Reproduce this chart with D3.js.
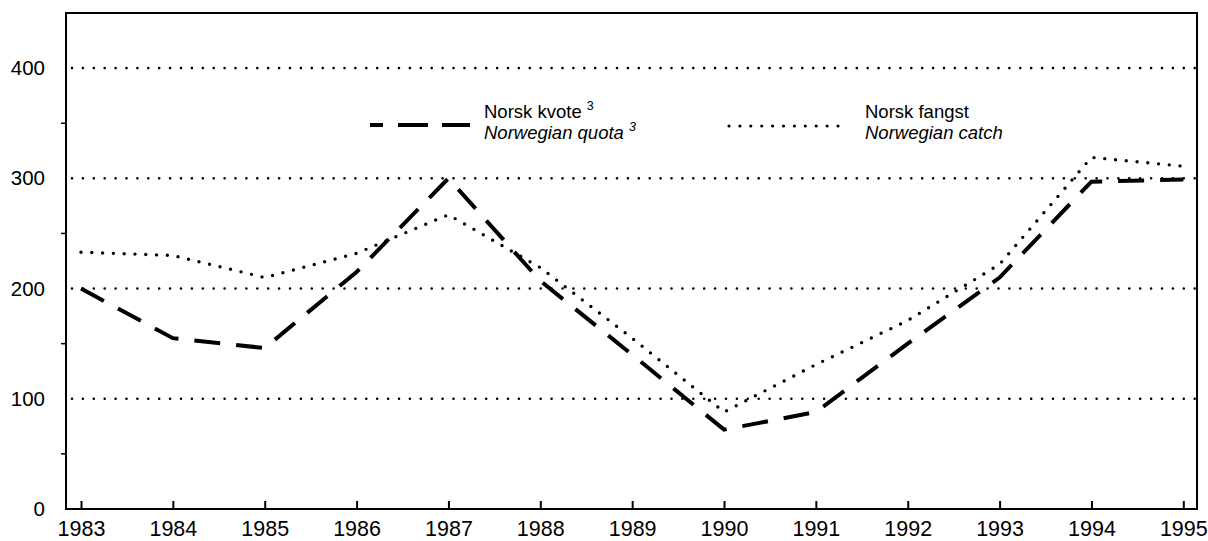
<!DOCTYPE html>
<html><head><meta charset="utf-8">
<script src="https://cdn.jsdelivr.net/npm/d3@7"></script>
<style>body{margin:0;background:#fff}svg{display:block}text{font-family:"Liberation Sans",Arial,sans-serif;fill:#000}</style>
</head><body><svg id="c" width="1208" height="541"></svg>
<script>
const years = [1983,1984,1985,1986,1987,1988,1989,1990,1991,1992,1993,1994,1995];
const quota = [200,155,146,215,300,207,140,72,88,150,210,297,299];
const catchV = [233,230,210,232,267,219,155,88,131,171,222,319,311];
const yTicks = [0,100,200,300,400];
const yMinor = [50,150,250,350];

const svg = d3.select("#c");
const L=66, R=1197, T=13, B=509;
const FF='"Liberation Sans",Arial,sans-serif';
const x = d3.scaleLinear().domain([1983,1995]).range([81,1183.3]);
const y = d3.scaleLinear().domain([0,450]).range([B,T]);

// gridlines
svg.append("g").selectAll("line").data(yTicks.filter(d=>d>0)).join("line")
  .attr("x1",L+6).attr("x2",R-2).attr("y1",d=>y(d)).attr("y2",d=>y(d))
  .attr("stroke","#000").attr("stroke-width",2.6).attr("stroke-linecap","round")
  .attr("stroke-dasharray","0,10.9");

// frame
svg.append("path").attr("d",`M${L},${B}V${T}H${R}V${B}Z`).attr("fill","none").attr("stroke","#000").attr("stroke-width",2);

// y axis
const ya = svg.append("g").attr("transform",`translate(${L},0)`)
  .call(d3.axisLeft(y).tickValues(yTicks).tickSize(0).tickPadding(21).tickFormat(d3.format("d")));
ya.select(".domain").remove();
ya.selectAll("text").attr("font-size",20.5).style("font-family",FF);
svg.append("g").selectAll("line").data(yMinor).join("line")
  .attr("x1",L-5).attr("x2",L).attr("y1",d=>y(d)).attr("y2",d=>y(d)).attr("stroke","#000").attr("stroke-width",1.5);

// x axis
const xa = svg.append("g").attr("transform",`translate(0,${B})`)
  .call(d3.axisBottom(x).tickValues(years).tickSize(-8).tickPadding(12).tickFormat(d3.format("d")));
xa.select(".domain").remove();
xa.selectAll(".tick line").attr("stroke-width",2);
xa.selectAll("text").attr("font-size",21.5).attr("dy","0.71em").style("font-family",FF);

const line = d3.line().x((d,i)=>x(years[i])).y(d=>y(d));
svg.append("path").datum(catchV).attr("d",line).attr("fill","none").attr("stroke","#000")
  .attr("stroke-width",3.4).attr("stroke-linecap","round").attr("stroke-dasharray","0,10.8");
svg.append("path").datum(quota).attr("d",line).attr("fill","none").attr("stroke","#000")
  .attr("stroke-width",4).attr("stroke-dasharray","26,16");

// legend
const lg = svg.append("g");
lg.append("line").attr("x1",370).attr("x2",470).attr("y1",125).attr("y2",125).attr("stroke","#000").attr("stroke-width",4).attr("stroke-dasharray","13,15,30,14,28");
lg.append("line").attr("x1",729).attr("x2",838).attr("y1",126).attr("y2",126).attr("stroke","#000").attr("stroke-width",3.2).attr("stroke-linecap","round").attr("stroke-dasharray","0,10.9");
const t1 = lg.append("text").attr("x",484).attr("y",118).attr("font-size",18.5);
t1.append("tspan").text("Norsk kvote ");
t1.append("tspan").attr("font-size",12.5).attr("dy",-8).text("3");
const t2 = lg.append("text").attr("x",484).attr("y",139).attr("font-size",18.5).attr("font-style","italic");
t2.append("tspan").text("Norwegian quota ");
t2.append("tspan").attr("font-size",12.5).attr("dy",-8).text("3");
lg.append("text").attr("x",865).attr("y",118).attr("font-size",18.5).text("Norsk fangst");
lg.append("text").attr("x",865).attr("y",139).attr("font-size",18.5).attr("font-style","italic").text("Norwegian catch");
</script></body></html>
